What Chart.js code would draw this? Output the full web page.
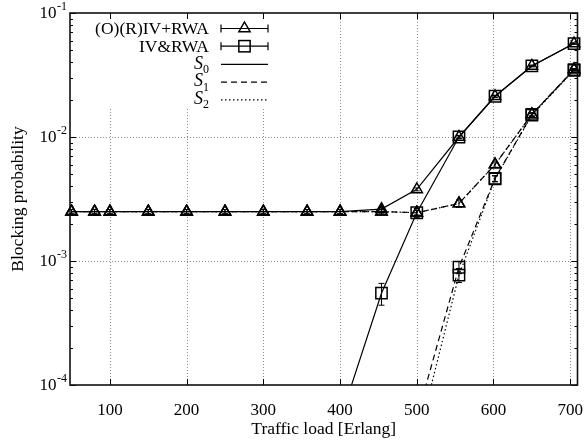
<!DOCTYPE html>
<html><head><meta charset="utf-8">
<script src="https://cdn.jsdelivr.net/npm/chart.js@4"></script>
<style>html,body{margin:0;padding:0;background:#fff}#wrap{width:587px;height:443px}</style>
</head><body><div id="wrap"><canvas id="c" width="587" height="443"></canvas></div>
<script>
// ---- data ----
const xTicks = [100, 200, 300, 400, 500, 600, 700];
const yDecades = [1e-4, 1e-3, 1e-2, 1e-1];
const yTickBase = '10';
const yTickExp = ['-4', '-3', '-2', '-1'];

const loadTri = [50, 80, 100, 150, 200, 250, 300, 357, 400, 454, 500, 555, 602, 650, 705];
const triS0 = [2.5e-3, 2.5e-3, 2.5e-3, 2.5e-3, 2.5e-3, 2.5e-3, 2.5e-3, 2.5e-3, 2.5e-3, 2.62e-3, 3.78e-3, 1.0e-2, 2.13e-2, 3.74e-2, 5.67e-2];
const triS1 = [2.5e-3, 2.5e-3, 2.5e-3, 2.5e-3, 2.5e-3, 2.5e-3, 2.5e-3, 2.5e-3, 2.5e-3, 2.5e-3, 2.45e-3, 2.91e-3, 6.0e-3, 1.52e-2, 3.5e-2];
const triS2 = [2.5e-3, 2.5e-3, 2.5e-3, 2.5e-3, 2.5e-3, 2.5e-3, 2.5e-3, 2.5e-3, 2.5e-3, 2.5e-3, 2.45e-3, 2.91e-3, 6.0e-3, 1.52e-2, 3.5e-2];
const triErr = [1e-4, 1e-4, 1e-4, 1e-4, 1e-4, 1e-4, 1e-4, 1e-4, 1e-4, 1e-4, 1e-4, 2e-4, 3e-4, 5e-4, 6e-4];

const loadSq = [400, 454, 500, 555, 602, 650, 705];
const sqS0 = [5.2e-5, 5.5e-4, 2.45e-3, 1.0e-2, 2.13e-2, 3.74e-2, 5.67e-2];
const sqS1 = [null, null, 5.4e-5, 8.9e-4, 4.63e-3, 1.52e-2, 3.5e-2];
const sqS2 = [null, null, 3.4e-5, 7.7e-4, 4.6e-3, 1.5e-2, 3.45e-2];
const sqErrS0 = [0, 1.1e-4, 2.0e-4, 3.0e-4, 4.0e-4, 5.0e-4, 6.0e-4];
const sqErrS1 = [0, 0, 0, 1.0e-4, 2.5e-4, 4.0e-4, 6.0e-4];
const sqErrS2 = [0, 0, 0, 1.0e-4, 2.5e-4, 4.0e-4, 6.0e-4];

const legendLabels = ['(O)(R)IV+RWA', 'IV&RWA', 'S', 'S', 'S'];
const legendSubs = ['', '', '0', '1', '2'];

// ---- styles ----
const SERIF = 'Liberation Serif';
const DASH_S0 = [], DASH_S1 = [6, 4], DASH_S2 = [1.5, 2.5];

function series(xs, ys, marker, dash, radius, errs) {
  return {
    data: xs.map((x, i) => ({x: x, y: ys[i]})),
    borderColor: '#000', borderWidth: 1.2, borderDash: dash,
    pointStyle: marker, pointRadius: radius, pointBorderWidth: 1.5,
    pointBorderColor: '#000', pointBackgroundColor: 'rgba(0,0,0,0)',
    fill: false, tension: 0, spanGaps: false,
    clip: {left: 10, right: 10, top: 10, bottom: 0},
    errs: errs || null
  };
}

function drawTri(ctx, cx, cy, r) {
  ctx.beginPath();
  ctx.moveTo(cx, cy - r);
  ctx.lineTo(cx + 0.866 * r, cy + 0.5 * r);
  ctx.lineTo(cx - 0.866 * r, cy + 0.5 * r);
  ctx.closePath(); ctx.stroke();
}
function drawSq(ctx, cx, cy, r) {
  const s = r * Math.SQRT1_2;
  ctx.strokeRect(cx - s, cy - s, 2 * s, 2 * s);
}

const deco = {
  id: 'deco',
  beforeDatasetsDraw(chart) {
    const {ctx, chartArea: a, scales: {x, y}} = chart;
    ctx.save();
    ctx.strokeStyle = '#8a8a8a'; ctx.lineWidth = 1; ctx.setLineDash([1, 2]);
    ctx.beginPath();
    xTicks.forEach(v => { const p = Math.round(x.getPixelForValue(v)) + 0.5; ctx.moveTo(p, a.top); ctx.lineTo(p, a.bottom); });
    yDecades.slice(1, 3).forEach(v => { const p = Math.round(y.getPixelForValue(v)) + 0.5; ctx.moveTo(a.left, p); ctx.lineTo(a.right, p); });
    ctx.stroke();
    ctx.setLineDash([]);
    ctx.fillStyle = '#fff';
    ctx.fillRect(84, a.top + 1, 188, 95);
    ctx.restore();
  },
  afterDatasetsDraw(chart) {
    const {ctx, chartArea: a, scales: {y}} = chart;
    ctx.save();
    ctx.beginPath(); ctx.rect(a.left - 8, a.top, a.right - a.left + 16, a.bottom - a.top); ctx.clip();
    ctx.strokeStyle = '#000'; ctx.lineWidth = 1;
    chart.data.datasets.forEach((ds, di) => {
      if (!ds.errs) return;
      const meta = chart.getDatasetMeta(di);
      meta.data.forEach((pt, i) => {
        const e = ds.errs[i]; const v = ds.data[i].y;
        if (!e || v == null) return;
        const px = pt.x;
        const y1 = y.getPixelForValue(v + e), y2 = y.getPixelForValue(Math.max(v - e, 1e-9));
        ctx.beginPath();
        ctx.moveTo(px, y1); ctx.lineTo(px, y2);
        ctx.moveTo(px - 3, y1); ctx.lineTo(px + 3, y1);
        ctx.moveTo(px - 3, y2); ctx.lineTo(px + 3, y2);
        ctx.stroke();
      });
    });
    ctx.restore();
  },
  afterDraw(chart) {
    const {ctx, chartArea: a, scales: {x, y}} = chart;
    ctx.save();
    // tick marks (inward, mirrored)
    ctx.strokeStyle = '#000'; ctx.lineWidth = 1;
    ctx.beginPath();
    xTicks.forEach(v => {
      const p = Math.round(x.getPixelForValue(v)) + 0.5;
      ctx.moveTo(p, a.bottom); ctx.lineTo(p, a.bottom - 6);
      ctx.moveTo(p, a.top); ctx.lineTo(p, a.top + 6);
    });
    yDecades.forEach(d => {
      for (let k = 1; k <= 9; k++) {
        const v = k * d;
        if (v > yDecades[yDecades.length - 1] * 1.0001) break;
        const len = k === 1 ? 6 : 3;
        const p = Math.round(y.getPixelForValue(v)) + 0.5;
        ctx.moveTo(a.left, p); ctx.lineTo(a.left + len, p);
        ctx.moveTo(a.right, p); ctx.lineTo(a.right - len, p);
      }
    });
    ctx.stroke();
    // frame
    ctx.lineWidth = 1.6; ctx.strokeStyle = '#111';
    ctx.strokeRect(a.left, a.top, a.right - a.left, a.bottom - a.top);
    // y tick labels 10^n
    ctx.fillStyle = '#000';
    ctx.textBaseline = 'middle'; ctx.textAlign = 'right';
    yDecades.forEach((d, i) => {
      const p = y.getPixelForValue(d);
      ctx.font = '12px "' + SERIF + '"';
      const ew = ctx.measureText(yTickExp[i]).width;
      ctx.fillText(yTickExp[i], 67, p - 6);
      ctx.font = '17px "' + SERIF + '"';
      ctx.fillText(yTickBase, 67 - ew - 0.5, p + 1);
    });
    // legend
    const x0 = 221, x1 = 268, xm = (x0 + x1) / 2, textR = 209;
    legendLabels.forEach((lab, i) => {
      const ry = 28.5 + i * 17.7;
      ctx.strokeStyle = '#000'; ctx.lineWidth = 1.2; ctx.setLineDash([]);
      ctx.fillStyle = '#000'; ctx.textBaseline = 'middle'; ctx.textAlign = 'right';
      if (legendSubs[i] === '') {
        ctx.font = '17.5px "' + SERIF + '"';
        ctx.fillText(lab, textR, ry + 1);
        ctx.beginPath();
        ctx.moveTo(x0, ry); ctx.lineTo(x1, ry);
        ctx.moveTo(x0, ry - 4); ctx.lineTo(x0, ry + 4);
        ctx.moveTo(x1, ry - 4); ctx.lineTo(x1, ry + 4);
        ctx.stroke();
        ctx.lineWidth = 1.5;
        if (i === 0) drawTri(ctx, xm, ry, 6.5); else drawSq(ctx, xm, ry, 8);
      } else {
        ctx.font = '12px "' + SERIF + '"';
        const sw = ctx.measureText(legendSubs[i]).width;
        ctx.fillText(legendSubs[i], textR, ry + 6);
        ctx.font = 'italic 18px "' + SERIF + '"';
        ctx.fillText(lab, textR - sw, ry);
        ctx.setLineDash([DASH_S0, DASH_S1, DASH_S2][i - 2]);
        ctx.beginPath(); ctx.moveTo(x0, ry + 0.5); ctx.lineTo(x1, ry + 0.5); ctx.stroke();
        ctx.setLineDash([]);
      }
    });
    ctx.restore();
  }
};

new Chart(document.getElementById('c'), {
  type: 'line',
  data: {
    datasets: [
      series(loadTri, triS0, 'triangle', DASH_S0, 6.5, triErr),
      series(loadTri, triS1, 'triangle', DASH_S1, 6.5, triErr),
      series(loadTri, triS2, 'triangle', DASH_S2, 6.5),
      series(loadSq, sqS0, 'rect', DASH_S0, 8, sqErrS0),
      series(loadSq, sqS1, 'rect', DASH_S1, 8, sqErrS1),
      series(loadSq, sqS2, 'rect', DASH_S2, 8, sqErrS2)
    ]
  },
  options: {
    responsive: false, animation: false, devicePixelRatio: 1,
    layout: {padding: {top: 13, right: 7, left: 0, bottom: 0}},
    plugins: {legend: {display: false}, tooltip: {enabled: false}},
    scales: {
      x: {
        type: 'linear', min: 48, max: 709.5,
        afterBuildTicks: s => { s.ticks = xTicks.map(v => ({value: v})); },
        afterFit: s => { s.height = 58; s.paddingLeft = 0; s.paddingRight = 0; },
        grid: {display: false}, border: {display: false},
        ticks: {font: {family: SERIF, size: 17}, color: '#000', padding: 7, maxRotation: 0, autoSkip: false,
                callback: v => String(v)},
        title: {display: true, text: 'Traffic load [Erlang]', color: '#000',
                font: {family: SERIF, size: 17.5}, padding: {top: 0, bottom: 3.5}}
      },
      y: {
        type: 'logarithmic', min: 1e-4, max: 1e-1,
        afterFit: s => { s.width = 70; s.paddingTop = 0; s.paddingBottom = 0; },
        grid: {display: false}, border: {display: false},
        ticks: {display: false},
        title: {display: true, text: 'Blocking probability', color: '#000',
                font: {family: SERIF, size: 17.5}, padding: {top: 7.5, bottom: 0}}
      }
    }
  },
  plugins: [deco]
});
</script>
</body></html>
